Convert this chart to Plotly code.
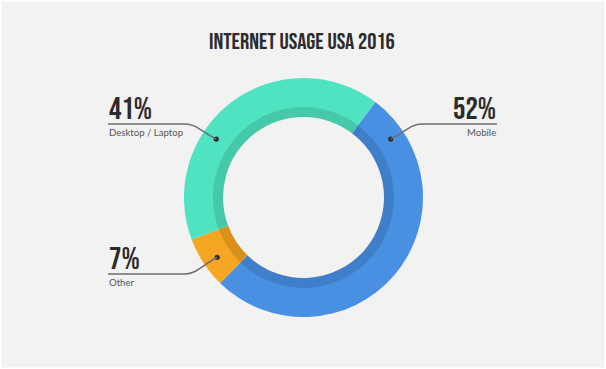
import math
import plotly.graph_objects as go

# ---- data ----
categories = ["Mobile", "Other", "Desktop / Laptop"]
shares = [52, 7, 41]
pct_labels = ["52%", "7%", "41%"]
colors = ["#4a90e2", "#f5a623", "#50e3c2"]
shadow_colors = ["#3f7fca", "#d9911c", "#46c8aa"]
title_text = "INTERNET USAGE USA 2016"

# ---- layout constants ----
W, H = 606, 369
cx, cy = 303.5, 197.5
R_out, R_mid, R_in = 119.5, 90.5, 80.5
START_ANGLE = 37


def px(x):
    return x / W


def py(y):
    return 1 - y / H


def dom(r):
    return dict(x=[px(cx - r), px(cx + r)], y=[py(cy + r), py(cy - r)])


fig = go.Figure()
fig.add_trace(go.Pie(
    labels=categories, values=shares, sort=False, direction="clockwise",
    rotation=START_ANGLE, hole=(R_mid - 3) / R_out, domain=dom(R_out),
    marker=dict(colors=colors, line=dict(width=0)),
    textinfo="none", hoverinfo="label+percent", showlegend=False,
))
fig.add_trace(go.Pie(
    labels=categories, values=shares, sort=False, direction="clockwise",
    rotation=START_ANGLE, hole=R_in / R_mid, domain=dom(R_mid),
    marker=dict(colors=shadow_colors, line=dict(width=0)),
    textinfo="none", hoverinfo="skip", showlegend=False,
))

shapes = []
annotations = []
LINE = "#6e6e6e"
DARK = "#2b2b2b"
BIG_FONT = "'Bebas Neue', Oswald, 'Roboto Condensed', sans-serif"
SMALL_FONT = "Lato, 'Open Sans', sans-serif"


def dot_at(angle_deg, r=105):
    a = math.radians(angle_deg)
    return cx + r * math.sin(a), cy - r * math.cos(a)


def add_dot(x, y):
    rr = 2.6
    shapes.append(dict(type="circle", xref="paper", yref="paper",
                       x0=px(x - rr), x1=px(x + rr), y0=py(y + rr), y1=py(y - rr),
                       fillcolor=DARK, line=dict(width=0)))


def add_path(pts_str):
    shapes.append(dict(type="path", xref="paper", yref="paper", path=pts_str,
                       line=dict(color=LINE, width=1.5)))


def P(x, y):
    return f"{px(x):.5f},{py(y):.5f}"


# label layout: (side, anchor x, underline y, dot angle)
label_specs = [
    ("right", 497, 124, 56.2),   # Mobile
    ("left", 108, 274, 235.3),   # Other
    ("left", 108, 124, 303.8),   # Desktop / Laptop
]

for cat, pct, (side, ax, uy, ang) in zip(categories, pct_labels, label_specs):
    dx, dy = dot_at(ang)
    add_dot(dx, dy)
    if side == "left":
        bend = 185
        sgn = 1
    else:
        bend = 422
        sgn = -1
    ctrl1 = bend + sgn * 11
    ctrl2x = dx - sgn * 14
    path = (f"M {P(ax, uy)} L {P(bend, uy)} "
            f"C {P(ctrl1, uy)} {P(ctrl2x, uy + (dy - uy) * 0.55)} {P(dx, dy)}")
    add_path(path)
    xanchor = "left" if side == "left" else "right"
    annotations.append(dict(text=pct, x=px(ax), y=py(uy + 5), xref="paper", yref="paper",
                            xanchor=xanchor, yanchor="bottom", showarrow=False, borderpad=0,
                            font=dict(family=BIG_FONT, size=31, color=DARK)))
    annotations.append(dict(text=cat, x=px(ax), y=py(uy + 2), xref="paper", yref="paper",
                            xanchor=xanchor, yanchor="top", showarrow=False, borderpad=0,
                            font=dict(family=SMALL_FONT, size=9.6, color="#555555")))

annotations.append(dict(text=title_text, x=px(302), y=py(57), xref="paper",
                        yref="paper", xanchor="center", yanchor="bottom", showarrow=False,
                        borderpad=0, font=dict(family=BIG_FONT, size=23, color=DARK)))

shapes.append(dict(type="rect", xref="paper", yref="paper", x0=0, x1=1, y0=0, y1=1,
                   line=dict(color="#ffffff", width=3), fillcolor="rgba(0,0,0,0)"))

fig.update_layout(
    width=W, height=H, margin=dict(l=0, r=0, t=0, b=0),
    paper_bgcolor="#f2f2f2", plot_bgcolor="#f2f2f2",
    shapes=shapes, annotations=annotations,
)

fig.write_html("out.html", config={"displayModeBar": False},
               post_script="document.body.style.margin='0';")
